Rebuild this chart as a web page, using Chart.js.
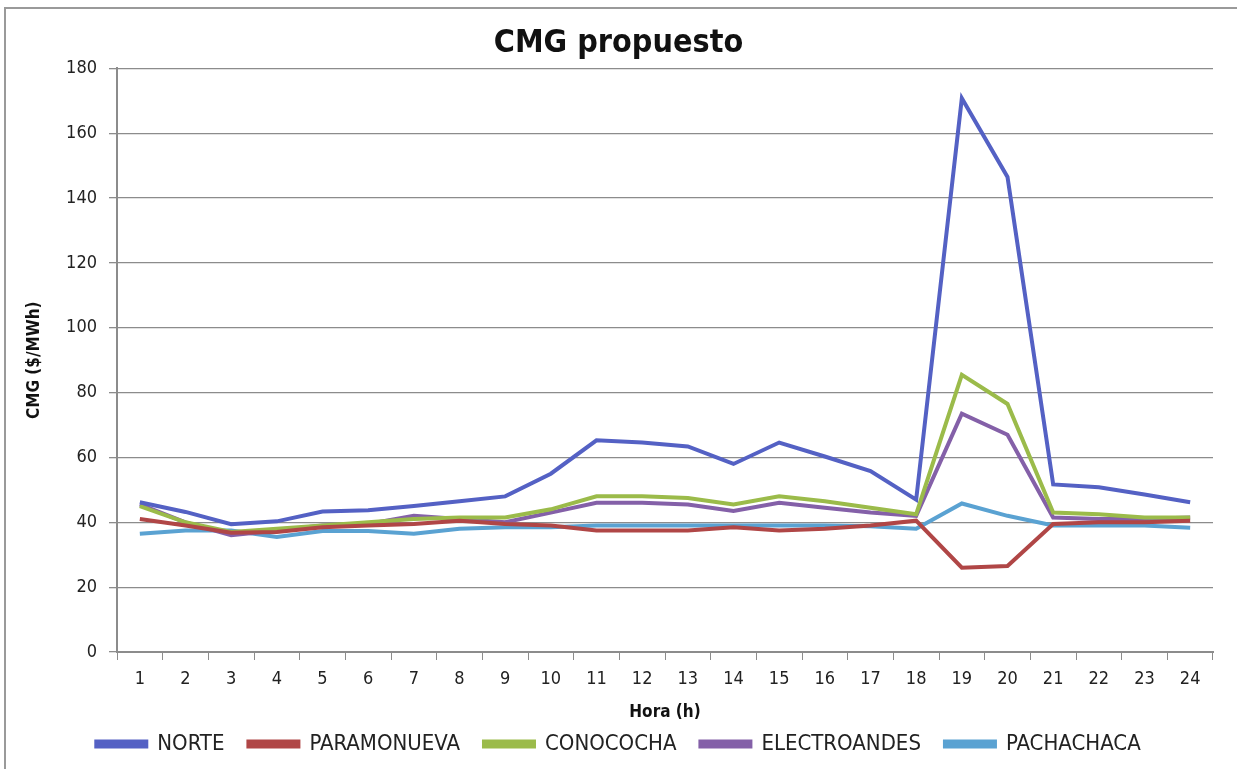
<!DOCTYPE html>
<html><head><meta charset="utf-8">
<script src="https://cdn.jsdelivr.net/npm/chart.js@4/dist/chart.umd.min.js"></script>
<style>
html,body{margin:0;padding:0;background:#fff;}
#wrap{position:absolute;left:0;top:0;width:1237px;height:769px;}
#frame{position:absolute;left:4px;top:7px;width:1240px;height:770px;border:2px solid #9a9a9a;box-sizing:border-box;pointer-events:none;}
</style></head>
<body>
<div id="wrap"><canvas id="c" width="1237" height="769"></canvas></div>
<div id="frame"></div>
<script>
const hours = ['1','2','3','4','5','6','7','8','9','10','11','12','13','14','15','16','17','18','19','20','21','22','23','24'];
const norte       = [46.2,43.2,39.4,40.3,43.3,43.7,45,46.5,48,55,65.3,64.6,63.4,58,64.6,60.3,55.8,47,170.8,146.5,51.7,50.8,48.6,46.2];
const paramonueva = [41,39,36.8,37,38.5,39,39.5,40.5,39.5,39,37.5,37.5,37.5,38.5,37.5,38,39,40.5,26,26.5,39.5,40,40,40.5];
const conococha   = [45,40,37,38,39,40,41,41.5,41.5,44,48,48,47.5,45.5,48,46.5,44.5,42.5,85.5,76.5,43,42.5,41.5,41.5];
const electroandes= [45.5,40,36,37.5,39,39.5,42,41,40,43,46,46,45.5,43.5,46,44.5,43,42,73.5,67,41.5,41,41,41.5];
const pachachaca  = [36.5,37.5,37.5,35.5,37.3,37.3,36.5,38,38.5,38.5,39,39,39,39,39,39,38.8,38,45.8,42,39,39,39,38.3];
const yTicks = [0,20,40,60,80,100,120,140,160,180];

const FONT = "'Liberation Sans Narrow','DejaVu Sans Condensed','Arial Narrow',sans-serif";
const mk = (label, data, color) => ({label, data, borderColor: color, backgroundColor: color, borderWidth: 4, pointRadius: 0, tension: 0, fill:false});
new Chart(document.getElementById('c'), {
  type: 'line',
  data: { labels: hours, datasets: [
    mk('NORTE', norte, '#5461C4'),
    mk('PARAMONUEVA', paramonueva, '#B04646'),
    mk('CONOCOCHA', conococha, '#9BBB4A'),
    mk('ELECTROANDES', electroandes, '#8460A8'),
    mk('PACHACHACA', pachachaca, '#5AA2D2')
  ]},
  options: {
    responsive: false, animation: false,
    layout: { padding: { left: 24, right: 24, top: 11, bottom: 4 } },
    plugins: {
      title: { display: true, text: 'CMG propuesto', color: '#111', font: { family: FONT, size: 32, weight: 'bold' }, padding: { top: 13, bottom: 6 } },
      legend: { position: 'bottom', labels: { color: '#222', font: { family: FONT, size: 22 }, boxWidth: 50, boxHeight: 5, padding: 24 } },
      tooltip: { enabled: false }
    },
    scales: {
      x: {
        offset: true,
        grid: { offset: true, drawOnChartArea: false, drawTicks: true, tickLength: 8, color: '#8c8c8c' },
        border: { color: '#8c8c8c', width: 2 },
        ticks: { color: '#222', font: { family: FONT, size: 18 }, padding: 9, maxRotation: 0, autoSkip: false },
        title: { display: true, text: 'Hora (h)', color: '#111', font: { family: FONT, size: 17, weight: 'bold' }, padding: { top: 0, bottom: -14 } },
        afterFit: s => { s.height = 57; }
      },
      y: {
        min: 0, max: 180,
        afterBuildTicks: s => { s.ticks = yTicks.map(v => ({ value: v })); },
        grid: { color: '#8c8c8c', lineWidth: 1.3, tickLength: 8 },
        border: { color: '#8c8c8c', width: 2 },
        ticks: { color: '#222', font: { family: FONT, size: 18 }, padding: 12 },
        title: { display: true, text: 'CMG ($/MWh)', color: '#111', font: { family: FONT, size: 17, weight: 'bold' }, padding: { top: 0, bottom: 4 } },
        afterFit: s => { s.width = 93; }
      }
    }
  }
});
</script>
</body></html>
